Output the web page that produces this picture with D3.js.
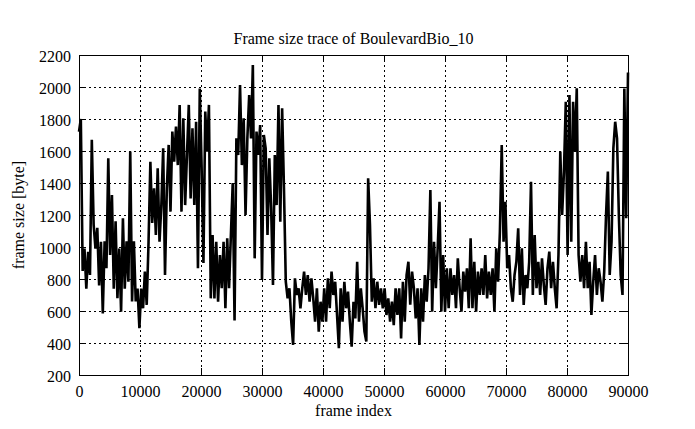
<!DOCTYPE html>
<html>
<head>
<meta charset="utf-8">
<script src="https://cdn.jsdelivr.net/npm/d3@7"></script>
<style>
  html, body { margin: 0; padding: 0; background: #fff; }
  svg text { font-family: "Liberation Serif", "Times New Roman", serif; fill: #000; }
</style>
</head>
<body>
<div id="chart"></div>
<script>
// ---- data ----
const title = "Frame size trace of BoulevardBio_10";
const xLabel = "frame index";
const yLabel = "frame size [byte]";
const xTicks = [0, 10000, 20000, 30000, 40000, 50000, 60000, 70000, 80000, 90000];
const yTicks = [200, 400, 600, 800, 1000, 1200, 1400, 1600, 1800, 2000, 2200];
const frameStep = 300; // sampling interval of the trace (frames)
const frameSizes = [
  1720, 1800, 850, 990, 740, 970, 825, 1670, 1140, 990,
  1120, 760, 1033, 585, 1035, 867, 1555, 950, 1325, 740,
  1160, 680, 990, 595, 1180, 740, 1035, 783, 1596, 660,
  1035, 660, 740, 492, 740, 617, 846, 638, 1030, 1533,
  1150, 1367, 1075, 1492, 1033, 1262, 1617, 825, 1367, 1638,
  1221, 1721, 1533, 1752, 1512, 1888, 1221, 1804, 1262, 1575,
  1888, 1304, 1742, 1262, 1783, 867, 1990, 1500, 900, 1846,
  1596, 1888, 679, 1075, 679, 1033, 658, 950, 742, 1033,
  617, 1054, 742, 1075, 1400, 540, 1679, 1575, 2012, 1512,
  1804, 1200, 1679, 1950, 1679, 2137, 929, 1721, 1575, 1762,
  794, 1700, 1617, 1075, 1554, 1242, 763, 1575, 1262, 1888,
  1158, 1867, 1367, 783, 679, 742, 534, 388, 804, 700,
  742, 617, 742, 846, 700, 825, 658, 804, 679, 533,
  742, 471, 658, 533, 742, 533, 804, 617, 846, 700,
  783, 575, 367, 742, 533, 783, 617, 721, 533, 377,
  658, 554, 908, 533, 742, 617, 471, 410, 1430, 1137,
  658, 804, 617, 783, 638, 742, 617, 742, 575, 679,
  533, 658, 512, 742, 575, 742, 429, 783, 533, 825,
  908, 640, 846, 742, 554, 742, 388, 742, 533, 825,
  658, 867, 1356, 596, 1033, 742, 992, 1283, 596, 950,
  596, 867, 617, 867, 700, 825, 617, 929, 742, 596,
  846, 721, 867, 617, 1054, 617, 908, 596, 846, 700,
  867, 700, 950, 679, 846, 700, 867, 596, 992, 783,
  1096, 1638, 1033, 1283, 867, 950, 742, 658, 825, 908,
  1117, 700, 992, 638, 825, 742, 908, 1408, 700, 1075,
  742, 908, 700, 929, 763, 638, 867, 971, 742, 908,
  742, 617, 950, 1596, 1200, 1471, 1908, 950, 1950, 1033,
  1908, 1596, 1992, 950, 783, 950, 742, 1033, 742, 908,
  575, 783, 950, 700, 867, 783, 658, 846, 1200, 1471,
  825, 1033, 1617, 1783, 1679, 1200, 825, 700, 1990, 1180,
  2090
];

// ---- layout ----
const W = 695, H = 429;
const plot = { left: 79, right: 628, top: 55, bottom: 375 };

const svg = d3.select("#chart").append("svg")
  .attr("width", W).attr("height", H)
  .attr("viewBox", `0 0 ${W} ${H}`);

const x = d3.scaleLinear().domain([0, 90000]).range([plot.left, plot.right]);
const y = d3.scaleLinear().domain([200, 2200]).range([plot.bottom, plot.top]);

// grid (dotted) on inner ticks
const gGrid = svg.append("g").attr("stroke", "#000").attr("stroke-width", 1)
  .attr("stroke-dasharray", "2,3").attr("shape-rendering", "crispEdges");
gGrid.selectAll("line.gx").data(xTicks.slice(1, -1)).join("line")
  .attr("x1", d => Math.round(x(d)) + 0.5).attr("x2", d => Math.round(x(d)) + 0.5)
  .attr("y1", plot.top).attr("y2", plot.bottom);
gGrid.selectAll("line.gy").data(yTicks.slice(1, -1)).join("line")
  .attr("y1", d => Math.round(y(d)) + 0.5).attr("y2", d => Math.round(y(d)) + 0.5)
  .attr("x1", plot.left).attr("x2", plot.right);

// data line
const line = d3.line()
  .x((d, i) => x(i * frameStep))
  .y(d => y(d));
svg.append("path")
  .datum(frameSizes)
  .attr("fill", "none")
  .attr("stroke", "#000")
  .attr("stroke-width", 2.6)
  .attr("stroke-linejoin", "miter")
  .attr("d", line);

// axes with inward ticks, mirrored
const tickLen = 7;
const axB = d3.axisBottom(x).tickValues(xTicks).tickSize(-tickLen).tickPadding(12).tickFormat(d3.format("d"));
const axT = d3.axisTop(x).tickValues(xTicks).tickSize(-tickLen).tickFormat("");
const axL = d3.axisLeft(y).tickValues(yTicks).tickSize(-tickLen).tickPadding(8).tickFormat(d3.format("d"));
const axR = d3.axisRight(y).tickValues(yTicks).tickSize(-tickLen).tickFormat("");

function styleAxis(g) {
  g.select(".domain").remove();
  g.selectAll(".tick line").attr("stroke", "#000").attr("shape-rendering", "crispEdges");
  g.selectAll(".tick text").attr("font-size", 16).attr("font-family", "Liberation Serif, serif").attr("fill", "#000");
}
const gB = svg.append("g").attr("transform", `translate(0,${plot.bottom})`).call(axB).call(styleAxis);
gB.selectAll(".tick text").attr("dy", null).attr("y", 22);
svg.append("g").attr("transform", `translate(0,${plot.top})`).call(axT).call(styleAxis);
const gL = svg.append("g").attr("transform", `translate(${plot.left},0)`).call(axL).call(styleAxis);
gL.selectAll(".tick text").attr("dy", null).attr("y", 6).attr("x", -8);
svg.append("g").attr("transform", `translate(${plot.right},0)`).call(axR).call(styleAxis);

// border
svg.append("rect")
  .attr("x", plot.left + 0.5).attr("y", plot.top + 0.5)
  .attr("width", plot.right - plot.left).attr("height", plot.bottom - plot.top)
  .attr("fill", "none").attr("stroke", "#000").attr("stroke-width", 1)
  .attr("shape-rendering", "crispEdges");

// labels
svg.append("text").attr("x", (plot.left + plot.right) / 2).attr("y", 44)
  .attr("text-anchor", "middle").attr("font-size", 16).text(title);
svg.append("text").attr("x", (plot.left + plot.right) / 2).attr("y", 416)
  .attr("text-anchor", "middle").attr("font-size", 16).text(xLabel);
svg.append("text")
  .attr("transform", `translate(24,${(plot.top + plot.bottom) / 2}) rotate(-90)`)
  .attr("text-anchor", "middle").attr("font-size", 16).text(yLabel);
</script>
</body>
</html>
